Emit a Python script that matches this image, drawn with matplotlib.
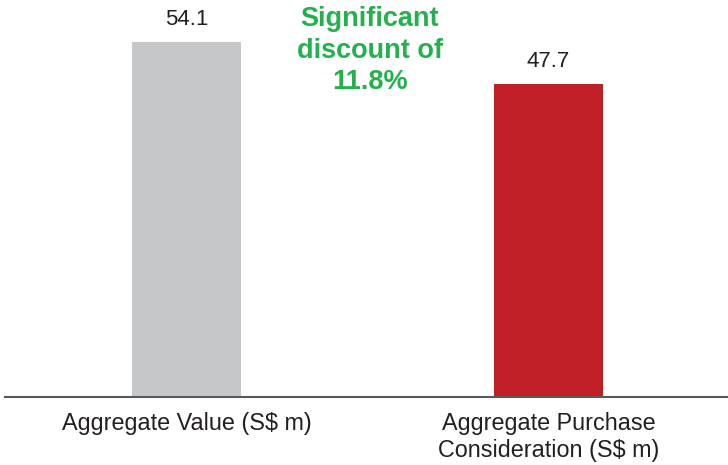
import matplotlib
matplotlib.use("Agg")
import matplotlib.pyplot as plt

categories = ["Aggregate Value (S$ m)", "Aggregate Purchase\nConsideration (S$ m)"]
values = [54.1, 47.7]
bar_colors = ["#c6c7c9", "#c11f26"]
value_labels = ["54.1", "47.7"]
note_text = "Significant\ndiscount of\n11.8%"

plt.rcParams["font.family"] = ["Liberation Sans", "DejaVu Sans"]

W, H, DPI = 728, 465, 100
fig = plt.figure(figsize=(W / DPI, H / DPI), dpi=DPI)
ax = fig.add_axes([5 / W, (H - 397) / H, 723 / W, 397 / H])

x = list(range(len(values)))
ax.bar(x, values, width=0.301, color=bar_colors, zorder=2)
ax.set_xlim(-0.501, 1.496)
ax.set_ylim(0, 60.5)

for xi, v, lab in zip(x, values, value_labels):
    ax.annotate(lab, (xi, v), xytext=(0, 12), textcoords="offset points",
                ha="center", va="baseline", fontsize=16, color="#231f20")

ax.text(0.507, 59.6, note_text, ha="center", va="top", fontsize=19.5,
        fontweight="bold", color="#23b14d", linespacing=1.28)

for s in ["top", "right", "left"]:
    ax.spines[s].set_visible(False)
ax.spines["bottom"].set_color("#58595b")
ax.spines["bottom"].set_linewidth(1.5)
ax.set_yticks([])
ax.set_xticks(x)
ax.set_xticklabels(categories, fontsize=16.8, color="#231f20", linespacing=1.22)
ax.tick_params(axis="x", length=0, pad=11)

fig.savefig("out.png", dpi=DPI)
